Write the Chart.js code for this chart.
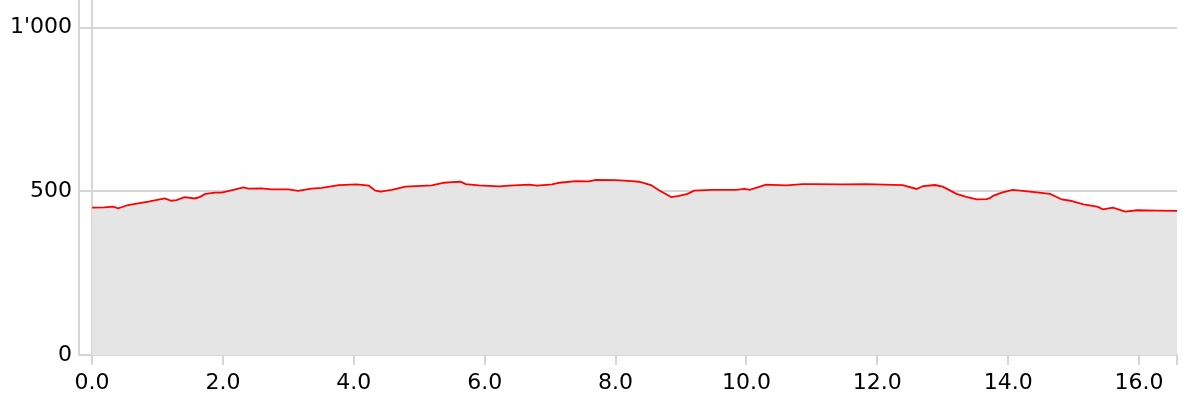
<!DOCTYPE html>
<html>
<head>
<meta charset="utf-8">
<script src="https://cdn.jsdelivr.net/npm/chart.js@4/dist/chart.umd.min.js"></script>
<style>
  html, body { margin: 0; padding: 0; background: #ffffff; }
  #wrap { width: 1197px; height: 412px; }
</style>
</head>
<body>
<div id="wrap"><canvas id="c" width="1197" height="412"></canvas></div>
<script>
// Distance along the route (km)
const distanceKm = [
  0.0, 0.19, 0.32, 0.40, 0.55, 0.86, 1.11, 1.21, 1.29, 1.41,
  1.57, 1.65, 1.73, 1.88, 1.98, 2.19, 2.31, 2.39, 2.59, 2.74,
  3.00, 3.15, 3.35, 3.51, 3.77, 4.04, 4.23, 4.33, 4.41, 4.58,
  4.79, 5.19, 5.38, 5.50, 5.63, 5.71, 5.91, 6.22, 6.37, 6.68,
  6.80, 7.03, 7.14, 7.39, 7.59, 7.70, 8.00, 8.25, 8.36, 8.54,
  8.67, 8.85, 8.97, 9.10, 9.20, 9.48, 9.84, 9.97, 10.05, 10.30,
  10.61, 10.86, 11.01, 11.47, 11.83, 12.39, 12.60, 12.70, 12.88, 13.00,
  13.21, 13.36, 13.52, 13.67, 13.72, 13.77, 13.90, 14.07, 14.33, 14.64,
  14.82, 14.95, 15.15, 15.36, 15.45, 15.60, 15.79, 15.97, 16.27, 16.58
];
// Elevation (m)
const elevationM = [
  450, 451, 453, 448, 458, 468, 478, 471, 473, 482,
  478, 483, 492, 496, 496, 506, 512, 508, 509, 506,
  506, 501, 508, 510, 519, 521, 517, 502, 499, 504,
  514, 518, 526, 528, 529, 522, 518, 515, 517, 520,
  517, 521, 526, 531, 530, 535, 534, 531, 529, 519,
  502, 482, 486, 492, 502, 504, 504, 507, 504, 520,
  518, 522, 522, 521, 522, 519, 507, 516, 519, 514,
  492, 483, 475, 476, 479, 486, 496, 504, 499, 492,
  475, 471, 460, 453, 445, 450, 438, 442, 441, 440
];
// Tick values
const xTickValues = [0, 2, 4, 6, 8, 10, 12, 14, 16];
const yTickValues = [0, 500, 1000];

const X_MIN = -0.2, X_MAX = 16.58, Y_MIN = 0, Y_MAX = 1084;
const GRID = '#d6d6d6';
const FONT = { family: 'DejaVu Sans', size: 22 };

const points = distanceKm.map((d, i) => ({ x: d, y: elevationM[i] }));

new Chart(document.getElementById('c'), {
  type: 'line',
  data: {
    datasets: [{
      data: points,
      borderColor: '#ff0000',
      borderWidth: 1.8,
      backgroundColor: '#e5e5e5',
      fill: 'origin',
      pointRadius: 0,
      tension: 0
    }]
  },
  options: {
    responsive: false,
    animation: false,
    events: [],
    layout: { padding: { top: 0, right: 20, left: 0, bottom: 0 } },
    plugins: { legend: { display: false }, tooltip: { enabled: false } },
    scales: {
      x: {
        type: 'linear',
        min: X_MIN,
        max: X_MAX,
        afterBuildTicks: (s) => {
          s.ticks = xTickValues.map(v => ({ value: v })).concat([{ value: X_MAX }]);
        },
        afterFit: (s) => { s.height = 57; s.paddingLeft = 0; s.paddingRight = 0; },
        grid: {
          color: (ctx) => (ctx.tick && ctx.tick.value === 0 ? GRID : 'rgba(0,0,0,0)'),
          tickColor: GRID,
          lineWidth: 2,
          drawTicks: true,
          tickLength: 10
        },
        border: { color: GRID, width: 2 },
        ticks: {
          color: '#000000',
          font: FONT,
          padding: 5,
          maxRotation: 0,
          autoSkip: false,
          callback: (v) => (xTickValues.includes(v) ? v.toFixed(1) : '')
        }
      },
      y: {
        type: 'linear',
        min: Y_MIN,
        max: Y_MAX,
        afterBuildTicks: (s) => { s.ticks = yTickValues.map(v => ({ value: v })); },
        afterFit: (s) => { s.width = 79; s.paddingTop = 0; s.paddingBottom = 0; },
        grid: {
          color: GRID,
          lineWidth: 2,
          drawTicks: false
        },
        border: { color: GRID, width: 2 },
        ticks: {
          color: '#000000',
          font: FONT,
          padding: 7,
          callback: (v) => String(v).replace(/\B(?=(\d{3})+(?!\d))/g, "'")
        }
      }
    }
  }
});
</script>
</body>
</html>
